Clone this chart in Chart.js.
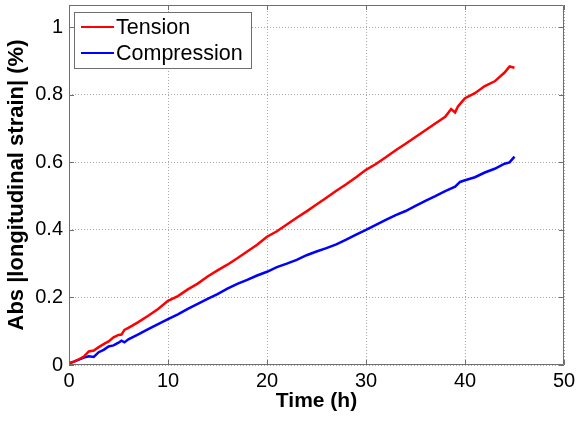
<!DOCTYPE html>
<html><head><meta charset="utf-8">
<script src="https://cdn.jsdelivr.net/npm/chart.js@4/dist/chart.umd.min.js"></script>
<style>html,body{margin:0;padding:0;background:#fff}canvas{display:block}</style>
</head><body>
<canvas id="c" width="577" height="421"></canvas>
<script>
// Data
const timeT = [0,0.5,1,1.5,2,2.5,3,3.5,4,4.5,5,5.3,5.6,6,7,8,9,10,11,12,13,14,15,16,17,18,19,20,21,22,23,24,25,26,27,28,29,30,31,32,33,34,35,36,37,38,38.6,39,39.3,40,41,42,43,44,44.5,45];
const tension = [0.005,0.010,0.017,0.025,0.040,0.043,0.053,0.062,0.070,0.082,0.089,0.090,0.104,0.110,0.127,0.146,0.166,0.190,0.204,0.224,0.241,0.262,0.280,0.297,0.316,0.336,0.356,0.380,0.396,0.416,0.436,0.455,0.475,0.495,0.516,0.535,0.556,0.578,0.595,0.615,0.636,0.655,0.675,0.695,0.715,0.735,0.758,0.748,0.766,0.790,0.805,0.826,0.840,0.866,0.884,0.880];
const timeC = [0,0.5,1,1.5,2,2.5,3,3.5,4,4.5,5,5.3,5.6,6,7,8,9,10,11,12,13,14,15,16,17,18,19,20,21,22,23,24,25,26,27,28,29,30,31,32,33,34,35,36,37,38,39,39.5,40,41,42,43,44,44.5,45];
const compression = [0.005,0.010,0.016,0.022,0.026,0.024,0.038,0.045,0.055,0.058,0.066,0.072,0.067,0.076,0.091,0.106,0.121,0.136,0.150,0.166,0.181,0.196,0.210,0.226,0.240,0.252,0.265,0.276,0.290,0.300,0.311,0.325,0.336,0.346,0.357,0.371,0.386,0.400,0.415,0.430,0.444,0.456,0.471,0.486,0.500,0.515,0.528,0.542,0.547,0.556,0.570,0.581,0.596,0.600,0.617];
const xTicks = [0,10,20,30,40,50];
const yTicks = [0,0.2,0.4,0.6,0.8,1];
const seriesNames = ['Tension','Compression'];

const PLOT = {left:69, right:564, top:5, bottom:365};
const W = 577, H = 421;
const FONT = '"Liberation Sans", Arial, sans-serif';

const frame = {
  id:'frame',
  afterDraw(chart){
    const {ctx, chartArea:a, scales:{x,y}} = chart;
    ctx.save();
    ctx.strokeStyle = '#6e6e6e';
    ctx.lineWidth = 1;
    ctx.setLineDash([]);
    ctx.beginPath();
    ctx.rect(a.left+0.5, a.top+0.5, a.right-a.left-1, a.bottom-a.top-1);
    ctx.stroke();
    ctx.beginPath();
    xTicks.forEach(v=>{const px=Math.round(x.getPixelForValue(v))+0.5;ctx.moveTo(px,a.bottom);ctx.lineTo(px,a.bottom-5);ctx.moveTo(px,a.top);ctx.lineTo(px,a.top+5);});
    yTicks.forEach(v=>{const py=Math.round(y.getPixelForValue(v))+0.5;ctx.moveTo(a.left,py);ctx.lineTo(a.left+5,py);ctx.moveTo(a.right,py);ctx.lineTo(a.right-5,py);});
    ctx.stroke();
    // legend
    const lx=a.left+5, ly=a.top+7, lw=178, lh=57;
    ctx.fillStyle='#fff';
    ctx.fillRect(lx,ly,lw,lh);
    ctx.strokeStyle='#6e6e6e';
    ctx.strokeRect(lx+0.5,ly+0.5,lw-1,lh-1);
    const cols=['#ff0000','#0000ff'];
    ctx.font='21.5px '+FONT;
    ctx.textBaseline='middle';
    ctx.textAlign='left';
    seriesNames.forEach((n,i)=>{
      const yy = ly+15+i*26;
      ctx.strokeStyle=cols[i]; ctx.lineWidth=2;
      ctx.beginPath(); ctx.moveTo(lx+7,yy); ctx.lineTo(lx+40,yy); ctx.stroke();
      ctx.fillStyle='#000'; ctx.fillText(n, lx+42, yy+1);
    });
    ctx.restore();
  }
};

new Chart(document.getElementById('c'),{
  type:'line',
  data:{datasets:[
    {label:seriesNames[0],data:timeT.map((t,i)=>({x:t,y:tension[i]})),borderColor:'#ff0000',borderWidth:2.5,pointRadius:0,tension:0,fill:false},
    {label:seriesNames[1],data:timeC.map((t,i)=>({x:t,y:compression[i]})),borderColor:'#0000ff',borderWidth:2.5,pointRadius:0,tension:0,fill:false}
  ]},
  options:{
    responsive:false,animation:false,devicePixelRatio:1,
    layout:{padding:{left:0,right:W-PLOT.right,top:PLOT.top,bottom:0}},
    plugins:{legend:{display:false},tooltip:{enabled:false}},
    scales:{
      x:{type:'linear',min:0,max:50,
        afterBuildTicks(s){s.ticks=xTicks.map(v=>({value:v}));},
        afterFit(s){s.height=H-PLOT.bottom;s.paddingLeft=0;s.paddingRight=0;},
        ticks:{color:'#000',font:{family:FONT,size:20},padding:4,maxRotation:0,autoSkip:false},
        grid:{color:'#a8a8a8',lineWidth:1,drawTicks:false},
        border:{display:false,dash:[1,2]},
        title:{display:true,text:'Time (h)',color:'#000',font:{family:FONT,size:21,weight:'bold'},padding:{top:0,bottom:7}}
      },
      y:{type:'linear',min:0,max:1.066,
        afterBuildTicks(s){s.ticks=yTicks.map(v=>({value:v}));},
        afterFit(s){s.width=PLOT.left;s.paddingTop=0;s.paddingBottom=0;},
        ticks:{color:'#000',font:{family:FONT,size:20},padding:6,autoSkip:false,callback:v=>String(v)},
        grid:{color:'#a8a8a8',lineWidth:1,drawTicks:false},
        border:{display:false,dash:[1,2]},
        title:{display:true,text:'Abs |longitudinal strain| (%)',color:'#000',font:{family:FONT,size:22,weight:'bold'},padding:{top:4,bottom:0}}
      }
    }
  },
  plugins:[frame]
});
</script>
</body></html>
